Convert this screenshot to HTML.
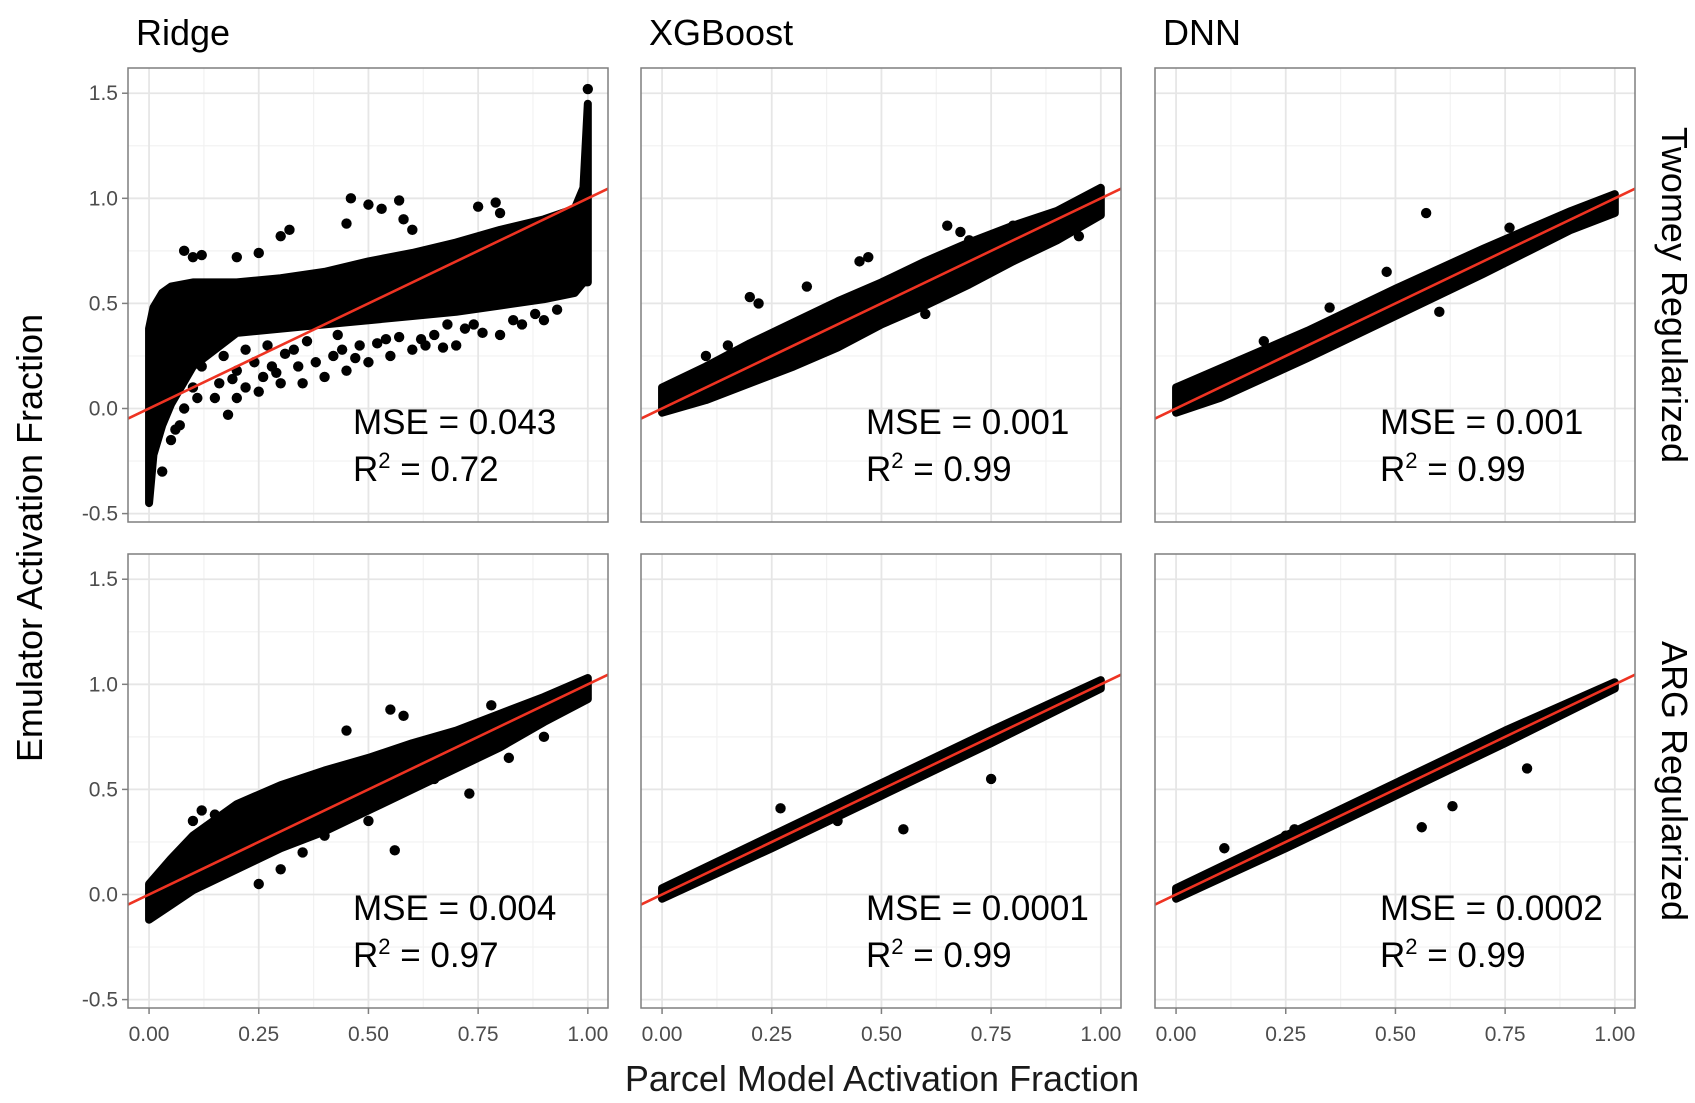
<!DOCTYPE html>
<html><head><meta charset="utf-8">
<style>
html,body{margin:0;padding:0;background:#fff;}
svg{display:block;font-family:"Liberation Sans",Arial,sans-serif;}
</style></head>
<body>
<svg id="chart" width="1695" height="1103" viewBox="0 0 1695 1103" xmlns="http://www.w3.org/2000/svg"></svg>
<script>
// ---- data ----
const xTicks = [0, 0.25, 0.5, 0.75, 1.0];
const xTickLabels = ["0.00", "0.25", "0.50", "0.75", "1.00"];
const yTicks = [-0.5, 0, 0.5, 1.0, 1.5];
const yTickLabels = ["-0.5", "0.0", "0.5", "1.0", "1.5"];
const colTitles = ["Ridge", "XGBoost", "DNN"];
const rowTitles = ["Twomey Regularized", "ARG Regularized"];
const mseLabels = ["0.043", "0.001", "0.001", "0.004", "0.0001", "0.0002"];
const r2Labels = ["0.72", "0.99", "0.99", "0.97", "0.99", "0.99"];

// dense point clouds: x, upper and lower envelope
const ridgeTopBandX = [0, 0.01, 0.03, 0.05, 0.1, 0.2, 0.3, 0.4, 0.5, 0.6, 0.7, 0.8, 0.9, 0.97, 0.99, 1.0];
const ridgeTopBandHi = [0.38, 0.48, 0.55, 0.58, 0.6, 0.6, 0.62, 0.65, 0.7, 0.74, 0.79, 0.85, 0.9, 0.95, 1.05, 1.45];
const ridgeTopBandLo = [-0.45, -0.22, -0.08, 0.02, 0.2, 0.36, 0.38, 0.4, 0.42, 0.44, 0.46, 0.49, 0.52, 0.55, 0.6, 0.6];
const ridgeTopPtsX = [0.08,0.1,0.12,0.2,0.25,0.3,0.32,0.45,0.46,0.5,0.53,0.57,0.58,0.6,0.75,0.79,0.8,0.1,0.15,0.2,0.25,0.3,0.35,0.4,0.45,0.5,0.55,0.6,0.7,0.8,0.9,0.12,0.2,0.28,0.38,0.03,0.05,0.07,0.18,0.22,0.26,0.42,0.48,0.65,0.72,0.85,1.0,0.14,0.33,0.52,0.62,0.08,0.16,0.24,0.13,0.17,0.22,0.27,0.31,0.36,0.43,0.47,0.57,0.63,0.68,0.76,0.83,0.88,0.11,0.19,0.29,0.34,0.44,0.54,0.67,0.74,0.93,0.06];
const ridgeTopPtsY = [0.75,0.72,0.73,0.72,0.74,0.82,0.85,0.88,1.0,0.97,0.95,0.99,0.9,0.85,0.96,0.98,0.93,0.1,0.05,0.05,0.08,0.12,0.12,0.15,0.18,0.22,0.25,0.28,0.3,0.35,0.42,0.2,0.18,0.2,0.22,-0.3,-0.15,-0.08,-0.03,0.1,0.15,0.25,0.3,0.35,0.38,0.4,1.52,0.3,0.28,0.31,0.33,0.0,0.12,0.22,0.27,0.25,0.28,0.3,0.26,0.32,0.35,0.24,0.34,0.3,0.4,0.36,0.42,0.45,0.05,0.14,0.17,0.2,0.28,0.33,0.29,0.4,0.47,-0.1];

const ridgeBotBandX = [0, 0.05, 0.1, 0.2, 0.3, 0.4, 0.5, 0.6, 0.7, 0.8, 0.9, 1.0];
const ridgeBotBandHi = [0.05, 0.17, 0.28, 0.43, 0.52, 0.59, 0.65, 0.72, 0.78, 0.86, 0.94, 1.03];
const ridgeBotBandLo = [-0.12, -0.05, 0.02, 0.12, 0.22, 0.3, 0.4, 0.5, 0.6, 0.7, 0.82, 0.93];
const ridgeBotPtsX = [0.45,0.55,0.56,0.58,0.73,0.78,0.25,0.3,0.35,0.4,0.2,0.15,0.12,0.1,0.65,0.82,0.9,0.5];
const ridgeBotPtsY = [0.78,0.88,0.21,0.85,0.48,0.9,0.05,0.12,0.2,0.28,0.3,0.38,0.4,0.35,0.55,0.65,0.75,0.35];

const xgbTopBandX = [0, 0.1, 0.2, 0.3, 0.4, 0.5, 0.6, 0.7, 0.8, 0.9, 1.0];
const xgbTopBandHi = [0.1, 0.2, 0.31, 0.41, 0.51, 0.6, 0.7, 0.79, 0.87, 0.94, 1.05];
const xgbTopBandLo = [-0.02, 0.04, 0.12, 0.2, 0.29, 0.4, 0.49, 0.59, 0.7, 0.8, 0.92];
const xgbTopPtsX = [0.2,0.22,0.45,0.47,0.65,0.68,0.7,0.8,0.95,0.55,0.4,0.38,0.33,0.6,0.1,0.15,0.28,0.52];
const xgbTopPtsY = [0.53,0.5,0.7,0.72,0.87,0.84,0.8,0.87,0.82,0.48,0.35,0.3,0.58,0.45,0.25,0.3,0.2,0.52];

const xgbBotBandX = [0, 0.25, 0.5, 0.75, 1.0];
const xgbBotBandHi = [0.03, 0.28, 0.53, 0.78, 1.02];
const xgbBotBandLo = [-0.02, 0.22, 0.47, 0.72, 0.98];
const xgbBotPtsX = [0.55,0.27,0.75,0.7,0.4,0.62];
const xgbBotPtsY = [0.31,0.41,0.55,0.68,0.35,0.6];

const dnnTopBandX = [0, 0.1, 0.3, 0.5, 0.7, 0.9, 1.0];
const dnnTopBandHi = [0.1, 0.19, 0.37, 0.57, 0.76, 0.94, 1.02];
const dnnTopBandLo = [-0.02, 0.05, 0.24, 0.44, 0.64, 0.85, 0.93];
const dnnTopPtsX = [0.57,0.76,0.83,0.48,0.35,0.2,0.6];
const dnnTopPtsY = [0.93,0.86,0.86,0.65,0.48,0.32,0.46];

const dnnBotBandX = [0, 0.25, 0.5, 0.75, 1.0];
const dnnBotBandHi = [0.03, 0.28, 0.53, 0.78, 1.01];
const dnnBotBandLo = [-0.02, 0.22, 0.47, 0.72, 0.98];
const dnnBotPtsX = [0.11,0.56,0.63,0.8,0.27,0.25];
const dnnBotPtsY = [0.22,0.32,0.42,0.6,0.31,0.28];

const panelBandX = [ridgeTopBandX, xgbTopBandX, dnnTopBandX, ridgeBotBandX, xgbBotBandX, dnnBotBandX];
const panelBandHi = [ridgeTopBandHi, xgbTopBandHi, dnnTopBandHi, ridgeBotBandHi, xgbBotBandHi, dnnBotBandHi];
const panelBandLo = [ridgeTopBandLo, xgbTopBandLo, dnnTopBandLo, ridgeBotBandLo, xgbBotBandLo, dnnBotBandLo];
const panelPtsX = [ridgeTopPtsX, xgbTopPtsX, dnnTopPtsX, ridgeBotPtsX, xgbBotPtsX, dnnBotPtsX];
const panelPtsY = [ridgeTopPtsY, xgbTopPtsY, dnnTopPtsY, ridgeBotPtsY, xgbBotPtsY, dnnBotPtsY];

// ---- layout ----
const svg = document.getElementById('chart');
const NS = 'http://www.w3.org/2000/svg';
const colL = [128, 641, 1155], colW = 480;
const rowT = [68, 554], rowH = 454;
const xMin = -0.048, xMax = 1.046, yMin = -0.54, yMax = 1.62;
function mk(tag, attrs, parent) {
  const e = document.createElementNS(NS, tag);
  for (const k in attrs) e.setAttribute(k, attrs[k]);
  (parent || svg).appendChild(e);
  return e;
}
function sx(c, v) { return colL[c] + (v - xMin) / (xMax - xMin) * colW; }
function sy(r, v) { return rowT[r] + (yMax - v) / (yMax - yMin) * rowH; }

for (let r = 0; r < 2; r++) {
  for (let c = 0; c < 3; c++) {
    const p = r * 3 + c;
    const g = mk('g', {});
    
    
    mk('rect', {x: colL[c], y: rowT[r], width: colW, height: rowH, fill: '#fff'}, g);
    for (let i = 0; i < xTicks.length - 1; i++) {
      const v = (xTicks[i] + xTicks[i + 1]) / 2, X = sx(c, v);
      mk('line', {x1: X, x2: X, y1: rowT[r], y2: rowT[r] + rowH, stroke: '#f2f2f2', 'stroke-width': 1.2}, g);
    }
    for (let i = 0; i < yTicks.length - 1; i++) {
      const v = (yTicks[i] + yTicks[i + 1]) / 2, Y = sy(r, v);
      mk('line', {x1: colL[c], x2: colL[c] + colW, y1: Y, y2: Y, stroke: '#f2f2f2', 'stroke-width': 1.2}, g);
    }
    xTicks.forEach(v => { const X = sx(c, v);
      mk('line', {x1: X, x2: X, y1: rowT[r], y2: rowT[r] + rowH, stroke: '#e6e6e6', 'stroke-width': 1.8}, g); });
    yTicks.forEach(v => { const Y = sy(r, v);
      mk('line', {x1: colL[c], x2: colL[c] + colW, y1: Y, y2: Y, stroke: '#e6e6e6', 'stroke-width': 1.8}, g); });
    const bx = panelBandX[p], hi = panelBandHi[p], lo = panelBandLo[p];
    let pts = [];
    for (let i = 0; i < bx.length; i++) pts.push(sx(c, bx[i]) + ',' + sy(r, hi[i]));
    for (let i = bx.length - 1; i >= 0; i--) pts.push(sx(c, bx[i]) + ',' + sy(r, lo[i]));
    const band = mk('polygon', {points: pts.join(' '), fill: '#000', stroke: '#000', 'stroke-width': 8, 'stroke-linejoin': 'round'}, g);
    
    
    const px = panelPtsX[p], py = panelPtsY[p];
    for (let i = 0; i < px.length; i++) {
      const pt = mk('circle', {cx: sx(c, px[i]), cy: sy(r, py[i]), r: 5.2, fill: '#000'}, g);
      
      
    }
    const ln = mk('line', {x1: sx(c, xMin), y1: sy(r, xMin), x2: sx(c, xMax), y2: sy(r, xMax), stroke: '#ee3322', 'stroke-width': 2.6}, g);
    
    
    mk('rect', {x: colL[c], y: rowT[r], width: colW, height: rowH, fill: 'none', stroke: '#7f7f7f', 'stroke-width': 1.5}, g);
    const t1 = mk('text', {x: colL[c] + 225, y: rowT[r] + 366, 'font-size': 35, fill: '#000'}, g);
    t1.textContent = 'MSE = ' + mseLabels[p];
    
    
    const t2 = mk('text', {x: colL[c] + 225, y: rowT[r] + 413, 'font-size': 35, fill: '#000'}, g);
    t2.innerHTML = 'R<tspan font-size="22" dy="-13">2</tspan><tspan dy="13"> = ' + r2Labels[p] + '</tspan>';
    
    
    if (c === 0) {
      yTicks.forEach((v, i) => { const Y = sy(r, v);
        mk('line', {x1: colL[0] - 6, x2: colL[0], y1: Y, y2: Y, stroke: '#7f7f7f', 'stroke-width': 1.5});
        const tl = mk('text', {x: colL[0] - 10, y: Y + 7, 'font-size': 21, fill: '#4d4d4d', 'text-anchor': 'end'});
        tl.textContent = yTickLabels[i];
        
        
      });
    }
    if (r === 1) {
      xTicks.forEach((v, i) => { const X = sx(c, v);
        mk('line', {x1: X, x2: X, y1: rowT[1] + rowH, y2: rowT[1] + rowH + 6, stroke: '#7f7f7f', 'stroke-width': 1.5});
        const tl = mk('text', {x: X, y: rowT[1] + rowH + 33, 'font-size': 21, fill: '#4d4d4d', 'text-anchor': 'middle'});
        tl.textContent = xTickLabels[i];
        
        
      });
    }
  }
}
colTitles.forEach((t, c) => {
  const e = mk('text', {x: colL[c] + 8, y: 45, 'font-size': 36, fill: '#000'});
  e.textContent = t;
  
  
});
rowTitles.forEach((t, r) => {
  const cy = rowT[r] + rowH / 2, cx = 1662;
  const e = mk('text', {x: cx, y: cy, 'font-size': 36, fill: '#000', 'text-anchor': 'middle', transform: 'rotate(90 ' + cx + ' ' + cy + ')'});
  e.textContent = t;
  
  
});
const yt = mk('text', {x: 42, y: 538, 'font-size': 36, fill: '#000', 'text-anchor': 'middle', transform: 'rotate(-90 42 538)'});
yt.textContent = 'Emulator Activation Fraction';


const xt = mk('text', {x: 882, y: 1091, 'font-size': 36, fill: '#1a1a1a', 'text-anchor': 'middle'});
xt.textContent = 'Parcel Model Activation Fraction';


</script>
</body></html>
